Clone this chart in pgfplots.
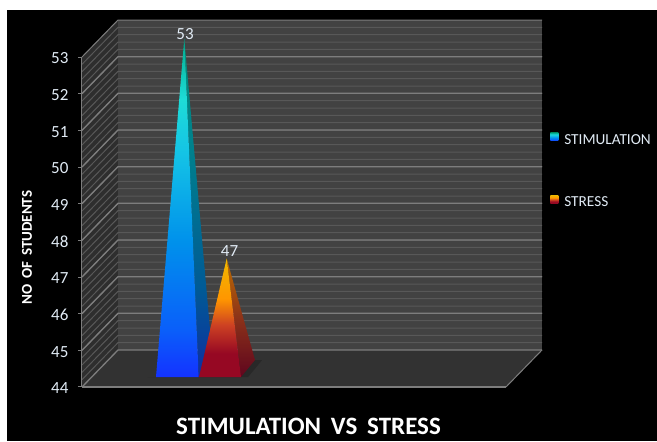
\documentclass[border=0pt]{standalone}
\usepackage{fontspec}
\setmainfont{Carlito}
\usepackage{pgfplots}
\pgfplotsset{compat=1.18}
\definecolor{wallback}{RGB}{66,66,66}
\definecolor{wallleft}{RGB}{46,46,46}
\definecolor{floorc}{RGB}{50,50,50}
\definecolor{minorg}{RGB}{88,88,88}
\definecolor{majorg}{RGB}{125,125,125}
\definecolor{labelc}{RGB}{225,235,245}
\definecolor{a1}{RGB}{20,50,255}\definecolor{a2}{RGB}{10,95,250}\definecolor{a3}{RGB}{0,145,235}\definecolor{a4}{RGB}{20,195,230}\definecolor{a5}{RGB}{30,220,215}\definecolor{a6}{RGB}{0,170,140}
\pgfdeclareverticalshading{stim}{100bp}{color(0bp)=(a1); color(25bp)=(a1); color(32bp)=(a2); color(45bp)=(a3); color(58bp)=(a4); color(66bp)=(a5); color(75bp)=(a6); color(100bp)=(a6)}
\definecolor{b1}{RGB}{15,45,160}\definecolor{b2}{RGB}{0,90,150}\definecolor{b3}{RGB}{0,130,140}\definecolor{b4}{RGB}{0,140,120}
\pgfdeclareverticalshading{stimside}{100bp}{color(0bp)=(b1); color(25bp)=(b1); color(38bp)=(b2); color(60bp)=(b3); color(75bp)=(b4); color(100bp)=(b4)}
\definecolor{c1}{RGB}{150,8,35}\definecolor{c2}{RGB}{205,65,35}\definecolor{c3}{RGB}{255,150,0}\definecolor{c4}{RGB}{240,185,0}
\pgfdeclareverticalshading{stress}{100bp}{color(0bp)=(c1); color(25bp)=(c1); color(35bp)=(c1); color(47bp)=(c2); color(58bp)=(c3); color(75bp)=(c4); color(100bp)=(c4)}
\definecolor{d1}{RGB}{95,5,30}\definecolor{d2}{RGB}{140,50,25}\definecolor{d3}{RGB}{190,110,0}
\pgfdeclareverticalshading{stressside}{100bp}{color(0bp)=(d1); color(25bp)=(d1); color(50bp)=(d2); color(75bp)=(d3); color(100bp)=(d3)}
\begin{document}
\begin{tikzpicture}
\begin{axis}[
  scale only axis, width=424pt, height=330pt,
  xmin=82, xmax=506, ymin=44, ymax=53,
  clip=false, axis on top=true, no markers,
  axis x line=none, axis y line=left,
  axis line style={-,draw=majorg,line width=1pt},
  ytick={44,45,...,53}, tick align=outside, major tick length=4pt,
  tick style={draw=majorg,line width=1pt},
  /pgf/number format/assume math mode=true,
  yticklabel style={font=\fontsize{17}{17}\selectfont,text=labelc,xshift=-6pt,yshift=-1.5pt},
  legend style={at={(1.104,0.773)},anchor=north west,draw=none,fill=none,inner sep=0pt,
    text=labelc,font=\fontsize{15.3}{15.3}\selectfont,row sep=47pt,
    /tikz/every odd column/.append style={column sep=4pt}},
  legend cell align=left,
]
% canvas
\fill[white] (axis cs:0,42.527) rectangle (axis cs:657,54.555);
\fill[black] (axis cs:7,42.527) rectangle (axis cs:657,54.282);
% walls and floor
\fill[wallback] (axis cs:118,45.009) rectangle (axis cs:542,54.009);
\fill[wallleft] (axis cs:82,44) -- (axis cs:118,45.009) -- (axis cs:118,54.009) -- (axis cs:82,53) -- cycle;
\fill[floorc] (axis cs:82,44) -- (axis cs:118,45.009) -- (axis cs:542,45.009) -- (axis cs:506,44) -- cycle;
\pgfplotsinvokeforeach{1,...,44}{
  \draw[minorg,line width=1pt] (axis cs:82,{44+#1*0.2}) -- (axis cs:118,{45.009+#1*0.2}) -- (axis cs:542,{45.009+#1*0.2});
}
\pgfplotsinvokeforeach{0,...,8}{
  \draw[majorg,line width=1.3pt] (axis cs:82,{44+#1}) -- (axis cs:118,{45.009+#1}) -- (axis cs:542,{45.009+#1});
}
\draw[majorg,line width=1pt] (axis cs:82,53) -- (axis cs:118,54.009) -- (axis cs:542,54.009);
\draw[majorg,line width=1.8pt] (axis cs:82,44) -- (axis cs:506,44);
\draw[majorg,line width=1pt] (axis cs:506,44) -- (axis cs:542,45.009);
% shadow
\fill[black!85,opacity=.8] (axis cs:148,44.27) -- (axis cs:248,44.27) -- (axis cs:262,44.73) -- (axis cs:215,44.73) -- (axis cs:156,44.27) -- cycle;
% STIMULATION pyramid, value 53
\addplot[forget plot,draw=none,shade,shading=stimside,yshift=18.5pt] coordinates {(198.7,43.768) (212.7,44.232) (184.3,53)} --cycle;
\addplot[draw=none,shade,shading=stim,yshift=18.5pt,
  legend image code/.code={\path[shade,shading=stim] (0pt,-19.5pt) rectangle (8pt,-11.5pt);}]
  coordinates {(156,43.768) (198.7,43.768) (184.3,53)} --cycle;
\addlegendentry{STIMULATION}
% STRESS pyramid, value 47
\addplot[forget plot,draw=none,shade,shading=stressside,yshift=18.5pt] coordinates {(241,43.768) (255,44.232) (226.7,47)} --cycle;
\addplot[draw=none,shade,shading=stress,yshift=18.5pt,
  legend image code/.code={\path[shade,shading=stress] (0pt,-19.5pt) rectangle (8pt,-11.5pt);}]
  coordinates {(199,43.768) (241,43.768) (226.7,47)} --cycle;
\addlegendentry{STRESS}
% value labels
\node[text=labelc,font=\fontsize{17}{17}\selectfont] at (axis cs:185,53.63) {53};
\node[text=labelc,font=\fontsize{17}{17}\selectfont] at (axis cs:229.5,47.72) {47};
% titles
\node[text=white,font=\bfseries\fontsize{15}{15}\selectfont,rotate=90] at (axis cs:27,47.8) {NO\,  OF\,  STUDENTS};
\node[text=white,font=\bfseries\fontsize{25}{25}\selectfont] at (axis cs:308.5,42.92) {STIMULATION\,  VS\,  STRESS};
\end{axis}
\end{tikzpicture}
\end{document}
